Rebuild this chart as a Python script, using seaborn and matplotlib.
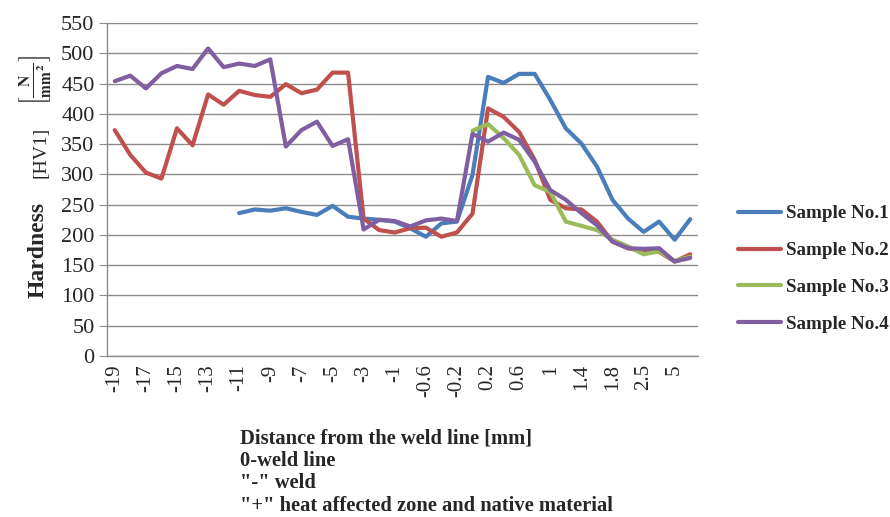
import numpy as np
import pandas as pd
import matplotlib.pyplot as plt
import seaborn as sns

# distance categories (only every other one is labelled on the axis)
categories = [str(v) for v in range(-19, 0)] + [
    "-0.8", "-0.6", "-0.4", "-0.2", "0", "0.2", "0.4", "0.6", "0.8", "1",
    "1.2", "1.4", "1.6", "1.8", "2", "2.5", "3", "5", "6"]

nan = np.nan
sample1 = [nan] * 8 + [236, 242, 240, 244, 238, 233, 248, 230, 227,
                       225, 222, 211, 197, 219, 222, 299,
                       461, 451, 466, 466, 423, 376, 351, 313, 258, 227, 205, 222, 192, 226]
sample2 = [373, 332, 303, 293, 376, 348, 432, 415, 438, 431, 428, 449, 434, 440, 468, 468,
           227, 208, 204, 211, 212, 197, 204, 235,
           409, 395, 370, 324, 258, 244, 242, 222, 189, 178, 173, 172, 156, 168]
sample3 = [nan] * 23 + [372, 383, 360, 332, 282, 271, 222, 215, 208, 192, 181, 168, 173, 157, 164]
sample4 = [454, 463, 442, 467, 479, 474, 508, 477, 483, 479, 490, 346, 373, 387, 347, 358,
           209, 225, 223, 214, 224, 227, 223, 367,
           354, 369, 357, 321, 274, 258, 236, 216, 189, 178, 177, 178, 156, 162]

names = ["Sample No.1", "Sample No.2", "Sample No.3", "Sample No.4"]
colors = ["#4A7EBB", "#C0504D", "#9BBB59", "#7F5FA1"]

# long format for seaborn
rows = []
for name, vals in zip(names, [sample1, sample2, sample3, sample4]):
    for i, v in enumerate(vals):
        if not np.isnan(v):
            rows.append({"pos": i, "hardness": v, "sample": name})
df = pd.DataFrame(rows)

sns.set_style("white")
plt.rcParams["font.family"] = ["Liberation Serif", "DejaVu Serif"]
plt.rcParams["mathtext.fontset"] = "stix"

fig = plt.figure(figsize=(8.9, 5.17), dpi=100)
ax = fig.add_axes([107 / 890, 1 - 356 / 517, (698 - 107) / 890, (356 - 23) / 517])

sns.lineplot(data=df, x="pos", y="hardness", hue="sample", hue_order=names,
             palette=colors, linewidth=3, sort=False, ax=ax)

ax.set_xlim(-0.5, len(categories) - 0.5)
ax.set_ylim(0, 550)
ax.set_yticks(range(0, 551, 50))
ax.yaxis.grid(True, color="#8C8C8C", linewidth=1)
ax.set_axisbelow(True)

# labels at category centres, tick marks at boundaries (Excel style)
ax.set_xticks(range(0, len(categories), 2))
ax.set_xticklabels(categories[::2], rotation=90, fontsize=15)
ax.set_xticks(np.arange(-0.5, len(categories), 1), minor=True)
ax.tick_params(axis="x", which="major", length=0, pad=6)
ax.tick_params(axis="x", which="minor", length=6, color="#8C8C8C", direction="out")
ax.tick_params(axis="y", length=6, color="#8C8C8C", direction="out", labelsize=16, pad=3)
ax.tick_params(bottom=True, left=True)

for s in ["top", "right"]:
    ax.spines[s].set_visible(False)
for s in ["left", "bottom"]:
    ax.spines[s].set_color("#8C8C8C")
    ax.spines[s].set_linewidth(1)

ax.set_xlabel("")
ax.set_ylabel("")

# legend on the right
handles, labels = ax.get_legend_handles_labels()
ax.get_legend().remove()
fig.legend(handles, labels, loc="center left", bbox_to_anchor=(721 / 890, 1 - 269 / 517),
           frameon=False, prop={"weight": "bold", "size": 13.7}, handlelength=2.25,
           labelspacing=1.03, handletextpad=0.25)

# y axis title in pieces
fig.text(38 / 890, 1 - 250 / 517, "Hardness", rotation=90, ha="center", va="center",
         fontsize=17, fontweight="bold")
fig.text(41 / 890, 1 - 152 / 517, "[HV1]", rotation=90, ha="center", va="center", fontsize=14)
fig.text(36 / 890, 1 - 80 / 517, r"$\left[\frac{\mathbf{N}}{\mathbf{mm^2}}\right]$",
         rotation=90, ha="center", va="center", fontsize=16)

# x axis notes
fig.text(240 / 890, 1 - 428 / 517,
         "Distance from the weld line [mm]\n0-weld line\n\"-\" weld\n"
         "\"+\" heat affected zone and native material",
         ha="left", va="top", fontsize=14.8, fontweight="bold", linespacing=1.18)

fig.savefig("out.png", dpi=100)
